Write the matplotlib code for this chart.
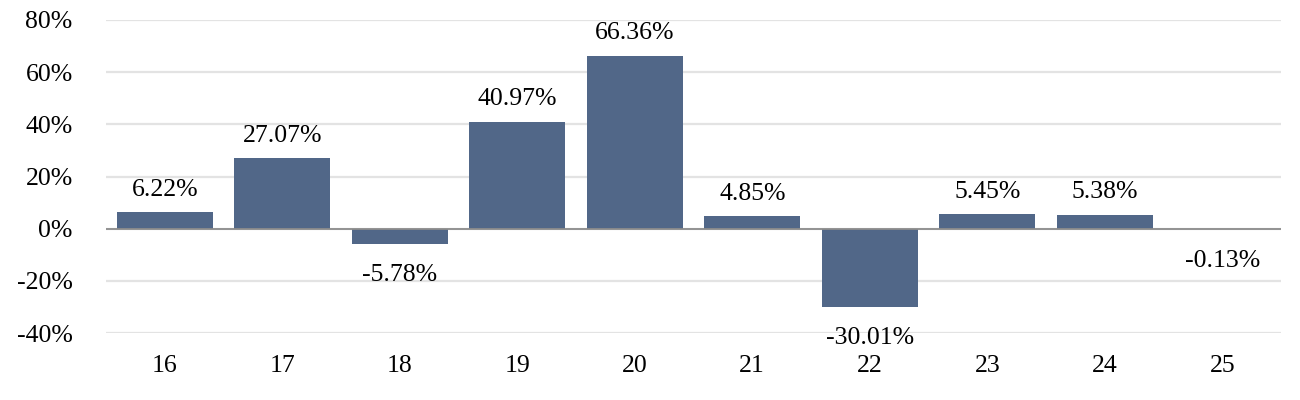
import matplotlib.pyplot as plt
import numpy as np

categories = ['16', '17', '18', '19', '20', '21', '22', '23', '24', '25']
values = [6.22, 27.07, -5.78, 40.97, 66.36, 4.85, -30.01, 5.45, 5.38, -0.13]
y_ticks = [-40, -20, 0, 20, 40, 60, 80]

plt.rcParams['font.family'] = ['Liberation Serif', 'DejaVu Serif']

fig = plt.figure(figsize=(13, 4), dpi=100)
ax = fig.add_axes([106 / 1300, 1 - 333 / 400, (1281 - 106) / 1300, (333 - 20) / 400])

x = np.arange(len(categories))
ax.bar(x, values, width=0.82, color='#516788', zorder=3)

fs = 18.5
for xi, v in zip(x, values):
    if v >= 0:
        ax.annotate(f'{v:.2f}%', (xi, v), xytext=(0, 25), textcoords='offset pixels',
                    ha='center', va='center_baseline', fontsize=fs)
    else:
        ax.annotate(f'{v:.2f}%', (xi, v), xytext=(0, -29), textcoords='offset pixels',
                    ha='center', va='center_baseline', fontsize=fs)

ax.axhline(0, color='#8c8c8c', lw=1.3, zorder=4)
ax.set_xlim(-0.5, len(categories) - 0.5)
ax.set_ylim(-40, 80)
ax.set_yticks(y_ticks)
ax.set_yticklabels([f'{t}%' for t in y_ticks])
ax.set_xticks(x)
ax.set_xticklabels(categories)
ax.grid(axis='y', color='#e3e3e3', lw=1.6, zorder=0)
ax.tick_params(axis='both', length=0, labelsize=fs)
ax.tick_params(axis='x', pad=16)
ax.tick_params(axis='y', pad=24)
for s in ax.spines.values():
    s.set_visible(False)

plt.savefig('out.png', dpi=100)
